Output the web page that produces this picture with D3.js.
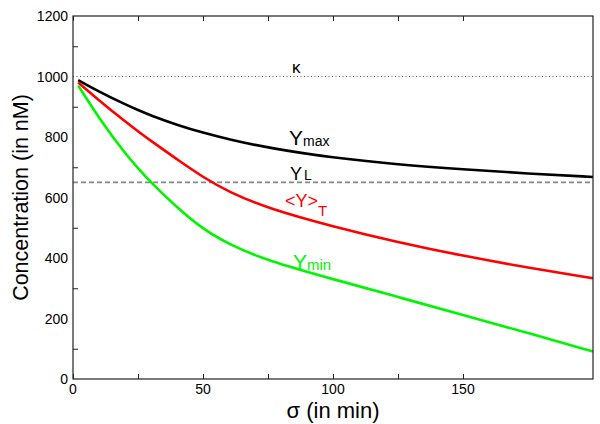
<!DOCTYPE html>
<meta charset="utf-8">
<script src="https://d3js.org/d3.v7.min.js"></script>
<style>
  body { margin: 0; background: #fff; }
  text { font-family: "Liberation Sans", Arial, sans-serif; }
</style>
<div id="my_dataviz"></div>
<script>

  // values
  var sigma = [2, 10, 20, 25, 30, 40, 50, 60, 75, 100, 125, 150, 175, 200];
  var yMax  = [988, 950, 908, 889, 871, 840, 814, 792, 764, 731, 709, 693, 679, 668];
  var yT    = [980, 921, 852, 819, 787, 726, 667, 618, 564, 504, 452, 407, 368, 333];
  var yMin  = [970, 862, 746, 697, 649, 567, 495, 445, 390, 330, 271, 212, 152, 91];

  var kappa = 1000;
  var yL = 650;

  var xTicks = [0, 25, 50, 75, 100, 125, 150];
  var xLabels = [0, 50, 100, 150];
  var yTicks = [100, 300, 500, 700, 900, 1100];
  var yLabels = [0, 200, 400, 600, 800, 1000, 1200];

  var margin = { top: 16, right: 7, bottom: 45, left: 73 },
    width = 600 - margin.left - margin.right,
    height = 424 - margin.top - margin.bottom;

  var svg = d3.select("#my_dataviz")
    .append("svg")
    .attr("width", 600)
    .attr("height", 424)
    .append("g")
    .attr("transform", "translate(" + margin.left + "," + margin.top + ")");

  var x = d3.scaleLinear().domain([0, 200]).range([0, width]);
  var y = d3.scaleLinear().domain([0, 1200]).range([height, 0]);

  // reference lines
  svg.append("line")
    .attr("x1", 0).attr("x2", width)
    .attr("y1", y(kappa)).attr("y2", y(kappa))
    .style("stroke", "#555").style("stroke-width", 1)
    .style("stroke-dasharray", "1,2.5");

  svg.append("line")
    .attr("x1", 0).attr("x2", width)
    .attr("y1", y(yL)).attr("y2", y(yL))
    .style("stroke", "#888").style("stroke-width", 1.6)
    .style("stroke-dasharray", "5,3");

  // curves
  var line = d3.line()
    .x(function (d) { return x(d[0]); })
    .y(function (d) { return y(d[1]); })
    .curve(d3.curveBasis);

  var series = [
    { vals: yMax, color: "#000000" },
    { vals: yT, color: "#ff0000" },
    { vals: yMin, color: "#00f500" }
  ];

  series.forEach(function (s) {
    svg.append("path")
      .datum(d3.zip(sigma, s.vals))
      .attr("d", line)
      .style("fill", "none")
      .style("stroke", s.color)
      .style("stroke-width", 2.6);
  });

  // frame
  svg.append("rect")
    .attr("width", width).attr("height", height)
    .style("fill", "none").style("stroke", "#222").style("stroke-width", 1.2);

  // ticks (inside)
  var bottomAxis = d3.axisBottom(x).tickValues(xTicks).tickSize(-5).tickFormat("");
  var topAxis = d3.axisTop(x).tickValues(xTicks).tickSize(-5).tickFormat("");
  var leftAxis = d3.axisLeft(y).tickValues(yTicks).tickSize(-5).tickFormat("");

  svg.append("g").attr("transform", "translate(0," + height + ")").call(bottomAxis);
  svg.append("g").call(topAxis);
  svg.append("g").call(leftAxis);
  svg.selectAll(".domain").remove();
  svg.selectAll(".tick line").style("stroke", "#222");

  // tick labels
  svg.selectAll(".xlab")
    .data(xLabels)
    .enter()
    .append("text")
    .attr("x", function (d) { return x(d); })
    .attr("y", height + 15)
    .attr("text-anchor", "middle")
    .style("font-size", "14px")
    .text(function (d) { return d; });

  svg.selectAll(".ylab")
    .data(yLabels)
    .enter()
    .append("text")
    .attr("x", -5)
    .attr("y", function (d) { return y(d) + 5; })
    .attr("text-anchor", "end")
    .style("font-size", "14px")
    .text(function (d) { return d; });

  // axis titles
  svg.append("text")
    .attr("x", width / 2)
    .attr("y", height + 39)
    .attr("text-anchor", "middle")
    .style("font-size", "22px")
    .text("σ (in min)");

  svg.append("text")
    .attr("transform", "translate(-45," + (height / 2) + ") rotate(-90)")
    .attr("text-anchor", "middle")
    .style("font-size", "21.5px")
    .text("Concentration (in nM)");

  // curve labels
  function label(px, py, main, sub, color, fs, sfs, sdx, sdy) {
    var t = svg.append("text")
      .attr("x", px - margin.left)
      .attr("y", py - margin.top)
      .style("fill", color)
      .style("font-size", fs + "px");
    t.append("tspan").text(main);
    if (sub) {
      t.append("tspan")
        .attr("dx", sdx)
        .attr("dy", sdy)
        .style("font-size", sfs + "px")
        .text(sub);
    }
  }

  label(292, 73, "κ", null, "#000", 17);
  label(289, 145, "Y", "max", "#000", 21, 14, 0, 1);
  label(290, 180, "Y", "L", "#000", 18, 14, 2, 0);
  label(285, 207, "<Y>", "T", "#ff0000", 18, 15, 0, 9);
  label(293, 269, "Y", "min", "#00f500", 21, 15, 0, 1);

</script>
